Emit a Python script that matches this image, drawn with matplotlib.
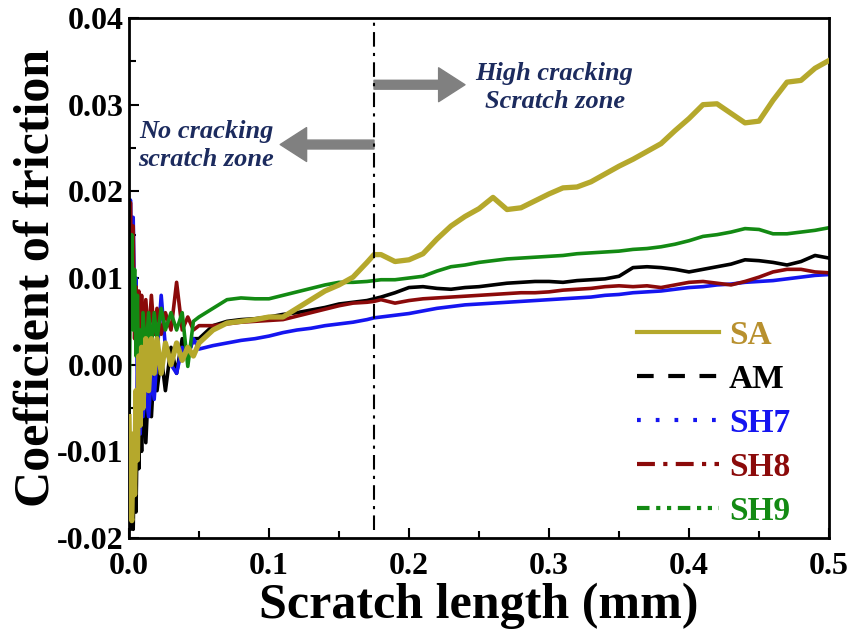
import matplotlib
matplotlib.use("Agg")
import matplotlib.pyplot as plt
from matplotlib.lines import Line2D
from matplotlib.ticker import MultipleLocator, FormatStrFormatter

plt.rcParams['font.family'] = ['Liberation Serif', 'DejaVu Serif']
plt.rcParams['font.weight'] = 'bold'

x = [0.000, 0.001, 0.002, 0.003, 0.004, 0.005, 0.006, 0.007, 0.008, 0.009,
     0.010, 0.012, 0.014, 0.016, 0.018, 0.020, 0.023, 0.026, 0.030, 0.034,
     0.038, 0.042, 0.046, 0.050, 0.060, 0.070, 0.080, 0.090, 0.100, 0.110,
     0.120, 0.130, 0.140, 0.150, 0.160, 0.170, 0.175, 0.180, 0.190, 0.200,
     0.210, 0.220, 0.230, 0.240, 0.250, 0.260, 0.270, 0.280, 0.290, 0.300,
     0.310, 0.320, 0.330, 0.340, 0.350, 0.360, 0.370, 0.380, 0.390, 0.400,
     0.410, 0.420, 0.430, 0.440, 0.450, 0.460, 0.470, 0.480, 0.490, 0.500]

sa = [-0.006, -0.017, -0.018, -0.008, -0.015, -0.003, -0.011, 0.001, -0.007, 0.002,
      -0.005, 0.003, -0.003, 0.003, -0.001, 0.003, -0.001, 0.0025, 0.0, 0.0025,
      0.0005, 0.002, 0.001, 0.0025, 0.004, 0.0048, 0.005, 0.0052, 0.0055, 0.0055,
      0.0065, 0.0075, 0.0085, 0.0092, 0.0101, 0.0118, 0.0127, 0.0127, 0.0119, 0.0121,
      0.0128, 0.0145, 0.016, 0.0171, 0.018, 0.0193, 0.0179, 0.0181, 0.0189, 0.0197,
      0.0204, 0.0205, 0.0211, 0.022, 0.0229, 0.0237, 0.0246, 0.0255, 0.027, 0.0284,
      0.0300, 0.0301, 0.0290, 0.0279, 0.0281, 0.0305, 0.0326, 0.0328, 0.0342, 0.0351]

am = [-0.010, -0.019, -0.012, -0.019, -0.008, -0.017, -0.006, -0.012, -0.004, -0.010,
      -0.002, -0.009, -0.002, -0.006, 0.000, -0.003, 0.001, -0.003, 0.002, -0.001,
      0.003, 0.001, 0.003, 0.003, 0.0045, 0.005, 0.0052, 0.0053, 0.0055, 0.0058,
      0.006, 0.0063, 0.0066, 0.007, 0.0072, 0.0074, 0.0076, 0.0078, 0.0083, 0.0089,
      0.009, 0.0088, 0.0087, 0.0089, 0.009, 0.0092, 0.0094, 0.0095, 0.0096, 0.0096,
      0.0095, 0.0097, 0.0098, 0.0099, 0.0102, 0.0112, 0.0113, 0.0112, 0.0110, 0.0107,
      0.0110, 0.0113, 0.0116, 0.0121, 0.0120, 0.0118, 0.0115, 0.0119, 0.0126, 0.0123]

sh7 = [0.005, 0.019, 0.012, 0.017, 0.006, 0.010, -0.003, 0.004, -0.008, -0.002,
       -0.006, -0.003, -0.006, -0.001, -0.004, 0.001, 0.008, 0.002, 0.0, -0.001,
       0.002, 0.001, 0.003, 0.0018, 0.0022, 0.0025, 0.0028, 0.003, 0.0033, 0.0037,
       0.004, 0.0042, 0.0045, 0.0047, 0.0049, 0.0052, 0.0054, 0.0055, 0.0057, 0.0059,
       0.0062, 0.0065, 0.0067, 0.0069, 0.007, 0.0071, 0.0072, 0.0073, 0.0074, 0.0075,
       0.0076, 0.0077, 0.0078, 0.008, 0.0081, 0.0083, 0.0084, 0.0085, 0.0087, 0.0089,
       0.009, 0.0092, 0.0093, 0.0095, 0.0096, 0.0097, 0.0099, 0.0101, 0.0103, 0.0104]

sh8 = [0.002, 0.0187, 0.008, 0.016, 0.003, 0.009, 0.002, 0.0085, 0.001, 0.008,
       0.002, 0.0075, 0.003, 0.008, 0.0035, 0.0065, 0.0035, 0.006, 0.004, 0.0095,
       0.004, 0.0055, 0.004, 0.0045, 0.0045, 0.0047, 0.0049, 0.005, 0.0051, 0.0052,
       0.0056, 0.006, 0.0064, 0.0068, 0.0071, 0.0072, 0.0073, 0.0075, 0.0071, 0.0074,
       0.0076, 0.0077, 0.0078, 0.0079, 0.008, 0.0081, 0.0082, 0.0083, 0.0083, 0.0084,
       0.0086, 0.0087, 0.0088, 0.009, 0.0091, 0.009, 0.0091, 0.0089, 0.0092, 0.0095,
       0.0096, 0.0094, 0.0092, 0.0096, 0.0101, 0.0107, 0.011, 0.011, 0.0107, 0.0106]

sh9 = [-0.008, 0.010, 0.015, 0.004, 0.011, 0.001, 0.008, -0.004, 0.004, -0.002,
       0.006, 0.001, 0.006, 0.002, 0.006, 0.003, 0.0065, 0.004, 0.006, 0.004,
       0.006, -0.0002, 0.005, 0.0055, 0.0065, 0.0075, 0.0077, 0.0076, 0.0076, 0.008,
       0.0084, 0.0088, 0.0092, 0.0095, 0.0095, 0.0096, 0.0097, 0.0098, 0.0098, 0.0100,
       0.0102, 0.0108, 0.0113, 0.0115, 0.0118, 0.012, 0.0122, 0.0123, 0.0124, 0.0125,
       0.0126, 0.0128, 0.0129, 0.013, 0.0131, 0.0133, 0.0134, 0.0136, 0.0139, 0.0143,
       0.0148, 0.015, 0.0153, 0.0157, 0.0156, 0.0151, 0.0151, 0.0153, 0.0155, 0.0158]

labels = ['SA', 'AM', 'SH7', 'SH8', 'SH9']
line_colors = ['#B5A82C', '#000000', '#1515F0', '#8B0A0A', '#138A13']
text_colors = ['#B8902E', '#000000', '#1515F0', '#8B0A0A', '#138A13']
styles = ['-', (0, (4, 3.5)), (0, (0.9, 3.6)), (0, (4.3, 2, 1, 2)),
          (0, (3, 1.6, 1, 1.6, 1, 1.6))]

boundary_x = 0.175

fig = plt.figure(figsize=(8.5, 6.35), dpi=100)
ax = fig.add_axes([129/850, 1 - 538/635, 700/850, 520/635])

series = [sa, am, sh7, sh8, sh9]
order = [1, 2, 3, 4, 0]
widths = [3.8, 2.6, 2.6, 2.6, 2.6]
for i in order:
    ax.plot(x, series[i], color=line_colors[i], lw=widths[i], solid_joinstyle='round',
            zorder=2 + (i == 0))

ax.axvline(boundary_x, ymin=0.015, ymax=1.0, color='black', lw=1.5,
           linestyle=(0, (7, 3, 1.5, 3)), zorder=4)

arrow_kw = dict(arrowstyle='simple,head_length=0.95,head_width=1.22,tail_width=0.32',
                color='#808080', mutation_scale=20, shrinkA=0, shrinkB=0)
ax.annotate('', xy=(0.240, 0.0323), xytext=(boundary_x, 0.0323), arrowprops=arrow_kw)
ax.annotate('', xy=(0.108, 0.0254), xytext=(boundary_x, 0.0254), arrowprops=arrow_kw)

navy = '#1C2B5E'
ax.text(0.304, 0.0320, 'High cracking\nScratch zone', ha='center', va='center',
        fontsize=19, style='italic', fontweight='bold', color=navy, linespacing=1.3)
ax.text(0.055, 0.0253, 'No cracking\nscratch zone', ha='center', va='center',
        fontsize=19, style='italic', fontweight='bold', color=navy, linespacing=1.3)

ax.set_xlim(0.0, 0.5)
ax.set_ylim(-0.02, 0.04)
ax.xaxis.set_major_locator(MultipleLocator(0.1))
ax.xaxis.set_minor_locator(MultipleLocator(0.05))
ax.yaxis.set_major_locator(MultipleLocator(0.01))
ax.yaxis.set_minor_locator(MultipleLocator(0.005))
ax.xaxis.set_major_formatter(FormatStrFormatter('%.1f'))
ax.yaxis.set_major_formatter(FormatStrFormatter('%.2f'))
ax.tick_params(which='both', direction='in', top=False, right=False, width=1.5, labelsize=23)
ax.tick_params(which='major', length=7)
ax.tick_params(which='minor', length=5)
ax.tick_params(axis='x', pad=10)
ax.tick_params(axis='y', pad=4)
for s in ax.spines.values():
    s.set_linewidth(2)

ax.set_xlabel('Scratch length (mm)', fontsize=36, fontweight='bold', labelpad=1)
ax.set_ylabel('Coefficient of friction', fontsize=36, fontweight='bold', labelpad=-2)

handles = [Line2D([], [], color=line_colors[i], lw=3.0, linestyle=styles[i],
                  dash_capstyle='butt') for i in range(5)]
leg = ax.legend(handles, labels, loc='upper left', bbox_to_anchor=(0.7257, 0.42),
                frameon=False, fontsize=24, handlelength=2.46, handletextpad=0.3,
                labelspacing=0.39, borderaxespad=0.0, borderpad=0.0)
for t, c in zip(leg.get_texts(), text_colors):
    t.set_color(c)
    t.set_fontweight('bold')

fig.savefig('out.png', dpi=100)
